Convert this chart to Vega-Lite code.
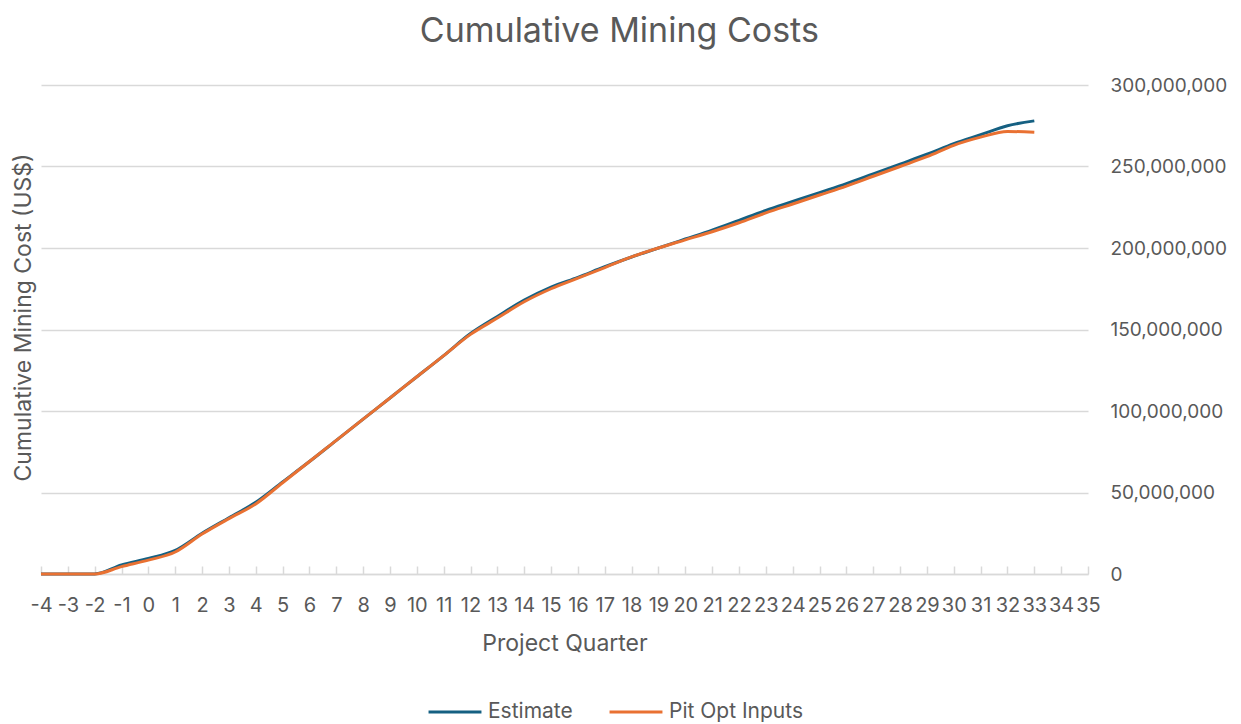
{
  "$schema": "https://vega.github.io/schema/vega-lite/v6.json",
  "width": 1047,
  "height": 489,
  "autosize": "none",
  "padding": {"left": 41, "top": 85, "right": 153, "bottom": 150},
  "background": "white",
  "title": {"text": "Cumulative Mining Costs", "fontSize": 34, "font": "Inter", "fontWeight": "normal", "color": "#595959", "anchor": "middle", "frame": "bounds", "offset": 27},
  "config": {"view": {"stroke": null}, "font": "Inter"},
  "data": {"values": [
    {"quarter": -4, "series": "Estimate", "cost": 0},
    {"quarter": -3, "series": "Estimate", "cost": 0},
    {"quarter": -2, "series": "Estimate", "cost": 0},
    {"quarter": -1, "series": "Estimate", "cost": 5500000},
    {"quarter": 0, "series": "Estimate", "cost": 9500000},
    {"quarter": 1, "series": "Estimate", "cost": 14500000},
    {"quarter": 2, "series": "Estimate", "cost": 25000000},
    {"quarter": 3, "series": "Estimate", "cost": 34500000},
    {"quarter": 4, "series": "Estimate", "cost": 44000000},
    {"quarter": 5, "series": "Estimate", "cost": 56500000},
    {"quarter": 6, "series": "Estimate", "cost": 69000000},
    {"quarter": 7, "series": "Estimate", "cost": 82000000},
    {"quarter": 8, "series": "Estimate", "cost": 95000000},
    {"quarter": 9, "series": "Estimate", "cost": 108000000},
    {"quarter": 10, "series": "Estimate", "cost": 121000000},
    {"quarter": 11, "series": "Estimate", "cost": 134000000},
    {"quarter": 12, "series": "Estimate", "cost": 147500000},
    {"quarter": 13, "series": "Estimate", "cost": 158000000},
    {"quarter": 14, "series": "Estimate", "cost": 168000000},
    {"quarter": 15, "series": "Estimate", "cost": 176000000},
    {"quarter": 16, "series": "Estimate", "cost": 182000000},
    {"quarter": 17, "series": "Estimate", "cost": 188500000},
    {"quarter": 18, "series": "Estimate", "cost": 194500000},
    {"quarter": 19, "series": "Estimate", "cost": 200000000},
    {"quarter": 20, "series": "Estimate", "cost": 205500000},
    {"quarter": 21, "series": "Estimate", "cost": 211000000},
    {"quarter": 22, "series": "Estimate", "cost": 217000000},
    {"quarter": 23, "series": "Estimate", "cost": 223000000},
    {"quarter": 24, "series": "Estimate", "cost": 228500000},
    {"quarter": 25, "series": "Estimate", "cost": 234000000},
    {"quarter": 26, "series": "Estimate", "cost": 239500000},
    {"quarter": 27, "series": "Estimate", "cost": 245500000},
    {"quarter": 28, "series": "Estimate", "cost": 251500000},
    {"quarter": 29, "series": "Estimate", "cost": 257500000},
    {"quarter": 30, "series": "Estimate", "cost": 264000000},
    {"quarter": 31, "series": "Estimate", "cost": 269500000},
    {"quarter": 32, "series": "Estimate", "cost": 275000000},
    {"quarter": 33, "series": "Estimate", "cost": 278000000},
    {"quarter": -4, "series": "Pit Opt Inputs", "cost": 0},
    {"quarter": -3, "series": "Pit Opt Inputs", "cost": 0},
    {"quarter": -2, "series": "Pit Opt Inputs", "cost": 0},
    {"quarter": -1, "series": "Pit Opt Inputs", "cost": 4500000},
    {"quarter": 0, "series": "Pit Opt Inputs", "cost": 8500000},
    {"quarter": 1, "series": "Pit Opt Inputs", "cost": 13500000},
    {"quarter": 2, "series": "Pit Opt Inputs", "cost": 24500000},
    {"quarter": 3, "series": "Pit Opt Inputs", "cost": 34000000},
    {"quarter": 4, "series": "Pit Opt Inputs", "cost": 43000000},
    {"quarter": 5, "series": "Pit Opt Inputs", "cost": 56000000},
    {"quarter": 6, "series": "Pit Opt Inputs", "cost": 69000000},
    {"quarter": 7, "series": "Pit Opt Inputs", "cost": 82000000},
    {"quarter": 8, "series": "Pit Opt Inputs", "cost": 95000000},
    {"quarter": 9, "series": "Pit Opt Inputs", "cost": 108000000},
    {"quarter": 10, "series": "Pit Opt Inputs", "cost": 121000000},
    {"quarter": 11, "series": "Pit Opt Inputs", "cost": 134000000},
    {"quarter": 12, "series": "Pit Opt Inputs", "cost": 147000000},
    {"quarter": 13, "series": "Pit Opt Inputs", "cost": 157000000},
    {"quarter": 14, "series": "Pit Opt Inputs", "cost": 167000000},
    {"quarter": 15, "series": "Pit Opt Inputs", "cost": 175000000},
    {"quarter": 16, "series": "Pit Opt Inputs", "cost": 181500000},
    {"quarter": 17, "series": "Pit Opt Inputs", "cost": 188000000},
    {"quarter": 18, "series": "Pit Opt Inputs", "cost": 194500000},
    {"quarter": 19, "series": "Pit Opt Inputs", "cost": 200000000},
    {"quarter": 20, "series": "Pit Opt Inputs", "cost": 205000000},
    {"quarter": 21, "series": "Pit Opt Inputs", "cost": 210000000},
    {"quarter": 22, "series": "Pit Opt Inputs", "cost": 215500000},
    {"quarter": 23, "series": "Pit Opt Inputs", "cost": 221500000},
    {"quarter": 24, "series": "Pit Opt Inputs", "cost": 227000000},
    {"quarter": 25, "series": "Pit Opt Inputs", "cost": 232500000},
    {"quarter": 26, "series": "Pit Opt Inputs", "cost": 238000000},
    {"quarter": 27, "series": "Pit Opt Inputs", "cost": 244000000},
    {"quarter": 28, "series": "Pit Opt Inputs", "cost": 250000000},
    {"quarter": 29, "series": "Pit Opt Inputs", "cost": 256000000},
    {"quarter": 30, "series": "Pit Opt Inputs", "cost": 263000000},
    {"quarter": 31, "series": "Pit Opt Inputs", "cost": 268000000},
    {"quarter": 32, "series": "Pit Opt Inputs", "cost": 271500000},
    {"quarter": 33, "series": "Pit Opt Inputs", "cost": 271000000}
  ]},
  "mark": {"type": "line", "strokeWidth": 3, "interpolate": "monotone"},
  "encoding": {
    "x": {
      "field": "quarter", "type": "quantitative",
      "scale": {"domain": [-4, 35], "nice": false, "zero": false},
      "axis": {
        "values": [-4,-3,-2,-1,0,1,2,3,4,5,6,7,8,9,10,11,12,13,14,15,16,17,18,19,20,21,22,23,24,25,26,27,28,29,30,31,32,33,34,35],
        "labelExpr": "'' + datum.value", "grid": false,
        "labelFontSize": 20, "labelColor": "#595959", "labelFont": "Inter",
        "labelOverlap": false, "labelFlush": false, "labelBound": false,
        "tickColor": "#d9d9d9", "tickSize": -8, "tickWidth": 1.5,
        "domainColor": "#d9d9d9", "domainWidth": 1.5,
        "labelPadding": 29,
        "title": "Project Quarter", "titleFontSize": 23, "titleColor": "#595959", "titleFontWeight": "normal", "titleFont": "Inter", "titlePadding": 17
      }
    },
    "y": {
      "field": "cost", "type": "quantitative",
      "scale": {"domain": [0, 300000000], "nice": false},
      "axis": {
        "orient": "right",
        "values": [0, 50000000, 100000000, 150000000, 200000000, 250000000, 300000000],
        "format": ",d",
        "labelFontSize": 19, "labelColor": "#595959", "labelFont": "Inter", "labelPadding": 22,
        "ticks": false, "domain": false,
        "grid": true, "gridColor": "#d9d9d9", "gridWidth": 1.5,
        "title": "Cumulative Mining Cost (US$)", "titleFontSize": 23, "titleColor": "#595959", "titleFontWeight": "normal", "titleFont": "Inter",
        "titleAngle": 270, "titleX": -1065, "titleY": 232, "titleAlign": "center", "titleBaseline": "middle"
      }
    },
    "color": {
      "field": "series", "type": "nominal",
      "scale": {"domain": ["Estimate", "Pit Opt Inputs"], "range": ["#156082", "#E97132"]},
      "legend": {
        "title": null, "orient": "none", "direction": "horizontal",
        "legendX": 386, "legendY": 599,
        "symbolType": "stroke", "symbolSize": 2800, "symbolStrokeWidth": 3,
        "labelFontSize": 21, "labelColor": "#595959", "labelFont": "Inter", "labelOffset": 5,
        "columnPadding": 30
      }
    }
  }
}
